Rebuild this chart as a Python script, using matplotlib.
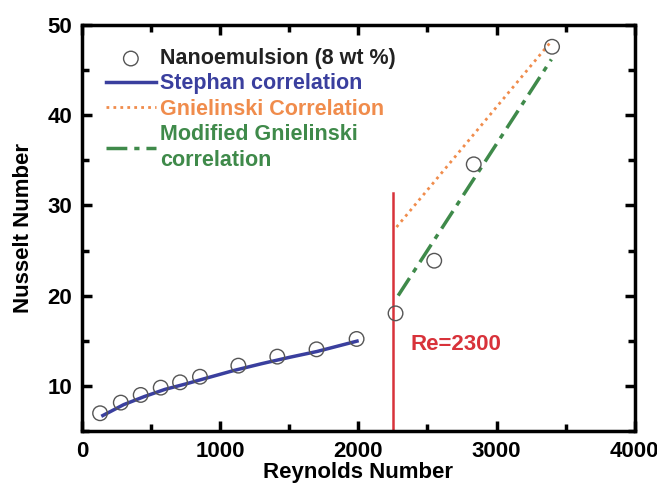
import matplotlib.pyplot as plt
from matplotlib.ticker import MultipleLocator

plt.rcParams['font.family'] = ['Liberation Sans', 'DejaVu Sans']
plt.rcParams['font.weight'] = 'bold'

# Measured data (nanoemulsion 8 wt %)
re_data = [130, 280, 424, 569, 709, 853, 1131, 1413, 1697, 1987, 2269, 2549, 2835, 3402]
nu_data = [6.95, 8.13, 8.98, 9.79, 10.38, 11.0, 12.23, 13.23, 14.04, 15.19, 18.03, 23.87, 34.56, 47.6]

# Stephan correlation (laminar)
re_stephan = [150, 300, 450, 600, 750, 900, 1100, 1300, 1500, 1700, 1990]
nu_stephan = [6.7, 7.9, 8.8, 9.6, 10.2, 10.85, 11.7, 12.45, 13.15, 13.8, 14.95]

# Gnielinski correlation
re_gniel = [2276, 3385]
nu_gniel = [27.6, 48.0]

# Modified Gnielinski correlation
re_mod = [2288, 3397]
nu_mod = [20.0, 46.2]

# transition line
re_trans = [2252, 2252]
nu_trans = [5, 31.4]

fig, ax = plt.subplots(figsize=(6.57, 4.83), dpi=100)
fig.subplots_adjust(left=0.125, right=0.966, top=0.948, bottom=0.108)

ax.plot(re_stephan, nu_stephan, color='#3a3f9e', lw=2.5, label='Stephan correlation', zorder=2)
ax.plot(re_gniel, nu_gniel, color='#f08c4c', lw=2, linestyle=(0, (1, 1.5)), label='Gnielinski Correlation', zorder=2)
ax.plot(re_mod, nu_mod, color='#3f8a4a', lw=2.5, linestyle=(0, (6, 2, 1.5, 2)),
        label='Modified Gnielinski\ncorrelation', zorder=2)
ax.plot(re_trans, nu_trans, color='#d8323a', lw=1.8, zorder=1)
ax.scatter(re_data, nu_data, s=110, facecolors='none', edgecolors='#555555', linewidths=1.0,
           label='Nanoemulsion (8 wt %)', zorder=3)

ax.text(2375, 14.6, 'Re=2300', color='#d8323a', fontsize=16, fontweight='bold', va='center')

ax.set_xlim(0, 4000)
ax.set_ylim(5, 50)
ax.xaxis.set_major_locator(MultipleLocator(1000))
ax.xaxis.set_minor_locator(MultipleLocator(500))
ax.yaxis.set_major_locator(MultipleLocator(10))
ax.yaxis.set_minor_locator(MultipleLocator(5))
ax.tick_params(which='both', direction='in', top=True, right=True, width=2.5, labelsize=16)
ax.tick_params(which='major', length=7, pad=7)
ax.tick_params(which='minor', length=5)
for s in ax.spines.values():
    s.set_linewidth(2.5)

ax.set_xlabel('Reynolds Number', fontsize=16, fontweight='bold', labelpad=0)
ax.set_ylabel('Nusselt Number', fontsize=16, fontweight='bold', labelpad=10)

handles, labels = ax.get_legend_handles_labels()
order = [3, 0, 1, 2]
leg = ax.legend([handles[i] for i in order], [labels[i] for i in order],
                loc='upper left', bbox_to_anchor=(0.02, 0.975), frameon=False,
                fontsize=15.5, handlelength=2.3, handletextpad=0.2, labelspacing=0.2,
                borderaxespad=0.2)
leg_colors = ['#222222', '#3a3f9e', '#f08c4c', '#3f8a4a']
for t, c in zip(leg.get_texts(), leg_colors):
    t.set_color(c)
    t.set_fontweight('bold')
    t.set_linespacing(1.3)

fig.savefig('out.png', dpi=100)
